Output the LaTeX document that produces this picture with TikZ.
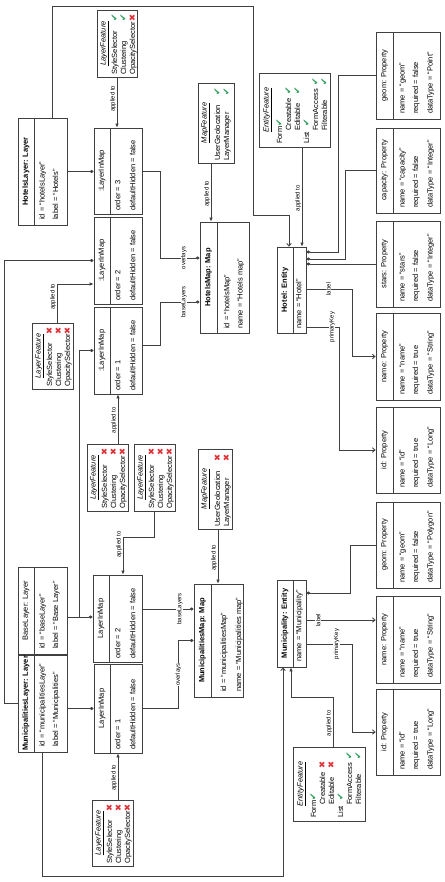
\documentclass[tikz,border=0pt]{standalone}
\usepackage{fontspec}
\setmainfont{Liberation Sans}
\newfontfamily\symf{DejaVu Sans}
\usetikzlibrary{arrows.meta}
\definecolor{okgreen}{HTML}{2E9E5B}
\definecolor{nored}{HTML}{E0333A}
\definecolor{ln}{HTML}{404040}
\newcommand\ok{\textcolor{okgreen}{\fontsize{9}{9}\selectfont ✔}}
\newcommand\no{\textcolor{nored}{\fontsize{8.5}{8.5}\selectfont ✖}}
\newcommand\fs{\fontsize{7.5}{9}\selectfont}
\newcommand\lfs{\fontsize{6}{7}\selectfont}
\tikzset{
  box/.style={draw=ln, line width=0.85pt, rotate=90, inner sep=0pt, fill=white},
  txt/.style={rotate=90, inner sep=0pt, font=\fs},
  icon/.style={rotate=90, inner sep=0pt, font=\symf},
  conn/.style={draw=ln, line width=0.85pt},
  arr/.style={conn, -{Latex[length=4pt,width=3.6pt]}},
  opn/.style={conn, -{Straight Barb[length=2.6pt,width=4.6pt]}},
  dia/.style={conn, -{Diamond[length=4pt,width=3.2pt]}},
  lbl/.style={rotate=90, inner sep=0.6pt, font=\lfs, fill=white},
}
% object box: name, xL, yT, xR, yB, xdiv, title
\newcommand\obj[7]{%
  \node[box, minimum width={#5-#3}, minimum height={#4-#2}] (#1) at ({(#2+#4)/2},{(#3+#5)/2}) {};
  \draw[draw=ln, line width=0.85pt] (#6,#3) -- (#6,#5);
  \node[txt] (#1-t) at ({(#2+#6)/2},{(#3+#5)/2}) {#7};
}
\newcommand\attr[4]{\node[txt, anchor=base west] (#1) at (#2,#3) {#4};}
\newcommand\prop[6]{%
  \obj{#1}{376}{#2}{440}{#3}{393}{#4: Property}
  \attr{#1-a1}{404.7}{#3-5}{name = “#4”}
  \attr{#1-a2}{418}{#3-5}{required = #5}
  \attr{#1-a3}{432.7}{#3-5}{dataType = “#6”}
}
\newcommand\lfeat[8]{%
  \node[box, minimum width={#5-#3}, minimum height={#4-#2}] (#1) at ({(#2+#4)/2},{(#3+#5)/2}) {};
  \node[txt, anchor=base] (#1-t) at ({#2+8.7},{(#3+#5)/2}) {\underline{\textit{LayerFeature}}};
  \node[txt, anchor=base west] (#1-a) at ({#2+20.2},{#5-2}) {StyleSelector};
  \node[txt, anchor=base west] (#1-b) at ({#2+29},{#5-2}) {Clustering};
  \node[txt, anchor=base west] (#1-c) at ({#2+38.2},{#5-2}) {OpacitySelector};
  \node[icon] (#1-i1) at ({#2+17.5},{#3+7.5}) {#6};
  \node[icon] (#1-i2) at ({#2+26.3},{#3+7.5}) {#7};
  \node[icon] (#1-i3) at ({#2+35.5},{#3+7.5}) {#8};
}
\newcommand\mfeat[7]{%
  \node[box, minimum width={#5-#3}, minimum height={#4-#2}] (#1) at ({(#2+#4)/2},{(#3+#5)/2}) {};
  \node[txt, anchor=base] (#1-t) at ({#2+8.5},{(#3+#5)/2}) {\underline{\textit{MapFeature}}};
  \node[txt, anchor=base west] (#1-a) at ({#2+22},{#5-2}) {UserGeolocation};
  \node[txt, anchor=base west] (#1-b) at ({#2+31},{#5-2}) {LayerManager};
  \node[icon] (#1-i1) at ({#2+19.3},{#3+8.5}) {#6};
  \node[icon] (#1-i2) at ({#2+28.5},{#3+8.5}) {#7};
}
\newcommand\efeat[6]{%
  \node[box, minimum width={#5-#3}, minimum height={#4-#2}] (#1) at ({(#2+#4)/2},{(#3+#5)/2}) {};
  \node[txt, anchor=base] (#1-t) at ({#2+9.7},{(#3+#5)/2}) {\underline{\textit{EntityFeature}}};
  \node[txt, anchor=base west] (#1-a) at ({#2+23},{#5-3}) {Form};
  \node[txt, anchor=base west] (#1-b) at ({#2+32},{#5-16}) {Creatable};
  \node[txt, anchor=base west] (#1-c) at ({#2+41},{#5-16}) {Editable};
  \node[txt, anchor=base west] (#1-d) at ({#2+50.2},{#5-3}) {List};
  \node[txt, anchor=base west] (#1-e) at ({#2+59.1},{#5-16}) {FormAccess};
  \node[txt, anchor=base west] (#1-f) at ({#2+68.1},{#5-16}) {Filterable};
  \node[icon] (#1-i1) at ({#2+20.3},{#5-24}) {\ok};
  \node[icon] (#1-i2) at ({#2+29.2},{#5-56}) {#6};
  \node[icon] (#1-i3) at ({#2+38.2},{#5-56}) {#6};
  \node[icon] (#1-i4) at ({#2+47.5},{#5-24}) {\ok};
  \node[icon] (#1-i5) at ({#2+56.4},{#5-65}) {\ok};
  \node[icon] (#1-i6) at ({#2+65.3},{#5-65}) {\ok};
}
\begin{document}
\begin{tikzpicture}[x=1pt,y=-1pt]
\fill[white] (0,0) rectangle (444,882);
\useasboundingbox (0,0) rectangle (444,882);

% ---------- boxes ----------
\obj{hl}{18}{118}{67}{225}{34}{\textbf{HotelsLayer: Layer}}
\attr{hl-a1}{44.5}{220}{id = “hotelsLayer”}
\attr{hl-a2}{58}{220}{label = “Hotels”}

\lfeat{lf1}{97}{10}{137}{77}{\ok}{\ok}{\no}

\obj{lm3}{94}{128}{142}{214}{110}{:LayerInMap}
\attr{lm3-a1}{120.3}{211}{order = 3}
\attr{lm3-a2}{135.4}{211}{defaultHidden = false}

\mfeat{mf1}{198}{83}{234}{163}{\ok}{\ok}

\obj{hm}{200}{222}{249}{333}{217}{\textbf{HotelsMap: Map}}
\attr{hm-a1}{229.4}{329}{id = “hotelsMap”}
\attr{hm-a2}{242.7}{329}{name = “Hotels map”}

\obj{lm2}{94}{217}{142}{304}{110}{:LayerInMap}
\attr{lm2-a1}{120.3}{301}{order = 2}
\attr{lm2-a2}{135.4}{301}{defaultHidden = false}

\obj{lm1}{94}{307}{142}{394}{110}{:LayerInMap}
\attr{lm1-a1}{120.3}{391}{order = 1}
\attr{lm1-a2}{135.4}{391}{defaultHidden = false}

\lfeat{lf2}{32}{323}{73}{389}{\no}{\no}{\no}

\efeat{ef1}{259}{73}{330}{147}{\ok}

\obj{he}{277}{247}{306}{333}{293}{\textbf{Hotel: Entity}}
\attr{he-a1}{301.3}{329}{name = “Hotel”}

\prop{p1}{32}{119}{geom}{false}{Point}
\prop{p2}{128}{213}{capacity}{false}{Integer}
\prop{p3}{221}{307}{stars}{false}{Integer}
\prop{p4}{313}{400}{name}{true}{String}
\prop{p5}{407}{493}{id}{true}{Long}
\prop{p6}{502}{588}{geom}{false}{Polygon}
\prop{p7}{596}{683}{name}{true}{String}
\prop{p8}{689}{775}{id}{true}{Long}

\obj{me}{277}{580}{306}{667}{293}{\textbf{Municipality: Entity}}
\attr{me-a1}{301.3}{662}{name = “Municipality”}

\efeat{ef2}{293}{747}{365}{821}{\no}

\obj{mm}{194}{584}{243}{697}{211}{\textbf{MunicipalitiesMap: Map}}
\attr{mm-a1}{226}{692}{id = “municipalitiesMap”}
\attr{mm-a2}{241}{692}{name = “Municipalities map”}

\mfeat{mf2}{198}{449}{232}{529}{\no}{\no}

\lfeat{lf3}{87}{444}{128}{511}{\no}{\no}{\no}
\lfeat{lf4}{134}{444}{175}{511}{\no}{\no}{\no}

\obj{lmm2}{93}{575}{142}{662}{109}{LayerInMap}
\attr{lmm2-a1}{120.3}{659}{order = 2}
\attr{lmm2-a2}{135.4}{659}{defaultHidden = false}

\obj{lmm1}{94}{664}{142}{753}{110}{LayerInMap}
\attr{lmm1-a1}{120.3}{750}{order = 1}
\attr{lmm1-a2}{135.4}{750}{defaultHidden = false}

\obj{bl}{18}{567}{67}{654}{34}{BaseLayer: Layer}
\attr{bl-a1}{44.5}{649}{id = “baseLayer”}
\attr{bl-a2}{58}{649}{label = “Base Layer”}

\obj{ml}{18}{655}{67}{752}{34}{\textbf{MunicipalitiesLayer: Layer}}
\attr{ml-a1}{44.5}{747}{id = “municipalitiesLayer”}
\attr{ml-a2}{58}{747}{label = “Municipalities”}

\lfeat{lf5}{92}{800}{133}{866}{\no}{\no}{\no}

% ---------- connectors ----------
\draw[opn] ([xshift=9.5pt]hl.east) |- (253,6) |- (289,215) -- ([xshift=-2.5pt]he.east);
\draw[dia] (hl.south) -- (hl.south -| lm3.north);
\draw[arr] (lf1.west) -- node[lbl, anchor=south, xshift=-1.2pt, pos=0.4]{applied to} (lf1.west |- lm3.east);
\draw[dia] (lm3.south) -- ++(18,0) |- node[lbl, pos=0.8]{overlays} ([yshift=19.5pt]hm.north);
\draw[arr] ([xshift=-5pt]mf1.west) -- node[lbl, anchor=south, xshift=-1.2pt]{applied to} ([xshift=-5pt]mf1.west |- hm.east);
\draw[arr] ([xshift=7.5pt]ef1.west) -- node[lbl, anchor=south, xshift=-1.2pt]{applied to} ([xshift=7.5pt]ef1.west |- he.east);
\draw[dia] (p1.north) -- ++(-37,0) |- ([yshift=38pt]he.south);
\draw[dia] (p2.north) -- ++(-30,0) |- ([yshift=31pt]he.south);
\draw[dia] (p3.north) -- (p3.north -| he.south);
\draw[opn] ([yshift=1pt]he.south) -- node[lbl, pos=0.39, yshift=-4pt]{label} ++(46,0) |- (p4.north);
\draw[opn] ([yshift=-37pt]he.south) -- node[lbl, pos=0.64, yshift=-4.5pt]{primaryKey} ++(33,0) |- (p5.north);
\draw[dia] (ml.north) -- ++(-13,0) |- (lm2.north);
\draw[arr] ([xshift=4.5pt]lf2.east) |- node[lbl, pos=0.35, anchor=south, xshift=-1.2pt]{applied to} ([yshift=-23.5pt]lm2.north);
\draw[dia] ([yshift=-6.5pt]bl.south) -- ([yshift=-6.5pt]bl.south -| lmm2.north);
\draw[dia] ([yshift=-6.5pt]bl.south) -- ++(12,0) |- (lm1.north);
\draw[dia] ([yshift=5pt]lm1.south) -- ++(18,0) |- node[lbl, pos=0.8]{baseLayers} ([yshift=-24.5pt]hm.north);
\draw[arr] ([xshift=10.5pt]lf3.east) -- node[lbl, anchor=south, xshift=-1.2pt]{applied to} ([xshift=10.5pt]lf3.east |- lm1.west);
\draw[arr] (lf4.west) -- ++(0,26) -| node[lbl, pos=0.58, anchor=south, xshift=-1.2pt]{applied to} ([xshift=5.5pt]lmm2.east);
\draw[arr] ([xshift=3pt]mf2.west) -- node[lbl, anchor=south, xshift=-1.2pt]{applied to} ([xshift=3pt]mf2.west |- mm.east);
\draw[dia] ([yshift=9.5pt]lmm2.south) -- node[lbl, pos=0.73]{baseLayers} ([yshift=9.5pt]lmm2.south -| mm.north);
\draw[dia] (lmm1.south) -- ++(36,0) |- node[lbl, pos=0.25]{overlays} (mm.north);
\draw[dia] (ml.south |- lmm1.north) -- (lmm1.north);
\draw[opn] (ml.west) -- ++(0,124) -| ([xshift=-8.5pt]me.west);
\draw[arr] ([xshift=5.5pt]lf5.east) -- node[lbl, anchor=south, xshift=-1.2pt]{applied to} ([xshift=5.5pt]lf5.east |- lmm1.west);
\draw[arr] ([xshift=4pt]ef2.east) -- node[lbl, anchor=south, xshift=-1.2pt]{applied to} ++(0,-49) -| ([xshift=-0.5pt]me.west);
\draw[dia] (p6.north) -- ++(-25,0) |- ([yshift=30.5pt]me.south);
\draw[opn] ([yshift=3.5pt]me.south) -- node[lbl, pos=0.17]{label} ([yshift=3.5pt]me.south -| p7.north);
\draw[opn] ([yshift=-20.5pt]me.south) -- node[lbl, pos=0.59, yshift=-3pt]{primaryKey} ++(46,0) |- (p8.north);
\end{tikzpicture}
\end{document}
